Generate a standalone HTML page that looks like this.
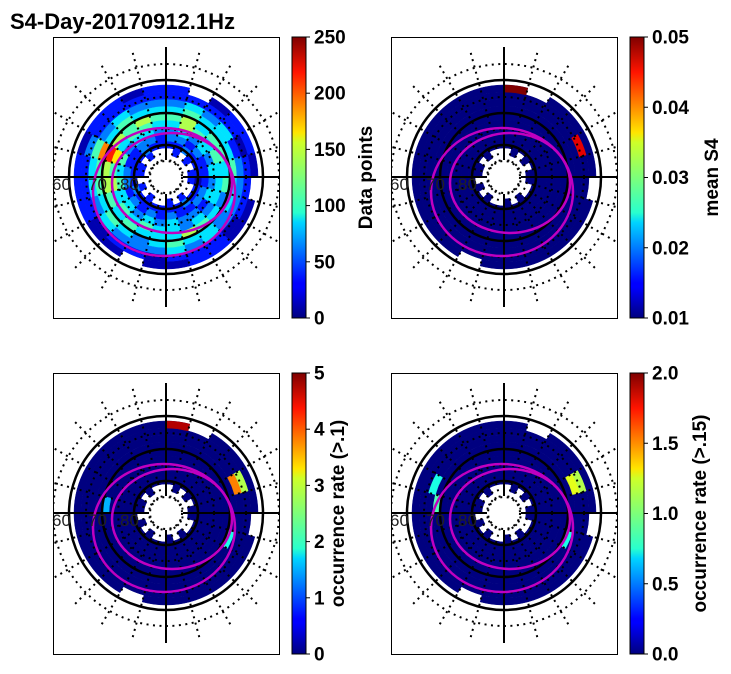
<!DOCTYPE html>
<html><head><meta charset="utf-8"><style>
html,body{margin:0;padding:0;background:#fff;}
svg{display:block;font-family:"Liberation Sans",sans-serif;}
</style></head><body>
<svg id="fig" width="731" height="674" viewBox="0 0 731 674">
<defs>
<linearGradient id="jet" x1="0" y1="1" x2="0" y2="0">
<stop offset="0" stop-color="#00007f"/><stop offset="0.11" stop-color="#0000ff"/>
<stop offset="0.125" stop-color="#0000ff"/><stop offset="0.34" stop-color="#00d4ff"/>
<stop offset="0.375" stop-color="#29ffce"/><stop offset="0.5" stop-color="#7dff7a"/>
<stop offset="0.625" stop-color="#ceff29"/><stop offset="0.66" stop-color="#ffe500"/>
<stop offset="0.875" stop-color="#ff1400"/><stop offset="1" stop-color="#7f0000"/>
</linearGradient>
</defs>
<text x="10" y="29" font-size="22" font-weight="bold">S4-Day-20170912.1Hz</text>
<g id="panels"></g>
</svg>
<script>
// Panel 1 data: levels 0-9 per ring (inner->outer), 24 sectors clockwise from north; '.' empty
const ringsP1 = [
".1.1.11..1.1..1.1.11.1..",
"112111011211111121111211",
"221211122112121212211221",
"232323231223232334342332",
"354343332323343435463443",
"453443423453334345585454",
"343334332334323434473433",
"232312222323222323342322",
"111101110111011011121111",
"1.0110.001100.0011101101"
];
// highlights for panels 2-4: [ring, sector, fraction 0..1]
const hiP2 = [[9,0,1.0],[8,4,0.9]];
const hiP3 = [[9,0,0.95],[8,4,0.55],[7,4,0.75],[6,7,0.4],[5,18,0.3]];
const hiP4 = [[8,4,0.55],[7,4,0.6],[6,7,0.4],[6,18,0.45],[7,19,0.4]];
const cbTicks1 = ["0","50","100","150","200","250"];
const cbTicks2 = ["0.01","0.02","0.03","0.04","0.05"];
const cbTicks3 = ["0","1","2","3","4","5"];
const cbTicks4 = ["0.0","0.5","1.0","1.5","2.0"];
const cbLabels = ["Data points","mean S4","occurrence rate (>.1)","occurrence rate (>.15)"];

const NS="http://www.w3.org/2000/svg";
const root=document.getElementById('panels');
function mk(tag,attrs,parent){const e=document.createElementNS(NS,tag);for(const k in attrs)e.setAttribute(k,attrs[k]);(parent||root).appendChild(e);return e;}
function jet(v){v=Math.max(0,Math.min(1,v));
 function c(x){return Math.max(0,Math.min(1,x));}
 const r=c(1.5-Math.abs(4*v-3)),g=c(1.5-Math.abs(4*v-2)),b=c(1.5-Math.abs(4*v-1));
 return `rgb(${Math.round(r*255)},${Math.round(g*255)},${Math.round(b*255)})`;}
const R0=22,DR=7,NSEC=24;
function rScale(i){return R0+i*DR;}
function aScale(j){return j*2*Math.PI/NSEC;}
function cellPath(cx,cy,i,j){
 const r1=rScale(i),r2=rScale(i+1),a1=aScale(j),a2=aScale(j+1);
 const p=(r,a)=>[cx+r*Math.sin(a),cy-r*Math.cos(a)];
 const A=p(r1,a1),B=p(r2,a1),C=p(r2,a2),D=p(r1,a2);
 return `M${A}L${B}A${r2},${r2} 0 0 1 ${C}L${D}A${r1},${r1} 0 0 0 ${A}Z`;}

const panels=[
 {x:53,y:37,cx:166,cy:177,cbx:292,ticks:cbTicks1,hi:null,lo:74},
 {x:391,y:37,cx:504,cy:177,cbx:630,ticks:cbTicks2,hi:hiP2,lo:82},
 {x:53,y:373,cx:166,cy:513,cbx:292,ticks:cbTicks3,hi:hiP3,lo:46},
 {x:391,y:373,cx:504,cy:513,cbx:630,ticks:cbTicks4,hi:hiP4,lo:70}];
const W=226,H=281;

panels.forEach((P,k)=>{
 const g=mk('g',{});
 
 
 const cp=mk('clipPath',{id:'clip'+k},g);mk('rect',{x:P.x,y:P.y,width:W,height:H},cp);
 const inner=mk('g',{'clip-path':`url(#clip${k})`},g);
 const hm=mk('g',{},inner);
 
 
 for(let i=0;i<ringsP1.length;i++)for(let j=0;j<NSEC;j++){
  const ch=ringsP1[i][j];let v;
  if(ch==='.')continue;
  if(P.hi===null){v=(+ch*25+12)/250;}
  else{v=0;}
  const c=mk('path',{d:cellPath(P.cx,P.cy,i,j),fill:jet(v),stroke:jet(v),'stroke-width':0.5},hm);
  
  
 }
 if(P.hi)P.hi.forEach(h=>{
  const c=mk('path',{d:cellPath(P.cx,P.cy,h[0],h[1]),fill:jet(h[2]),stroke:jet(h[2]),'stroke-width':0.5},hm);
  
  
 });
 [16,48,80,113].forEach(r=>{mk('circle',{cx:P.cx,cy:P.cy,r:r,fill:'none',stroke:'#000','stroke-width':2,'stroke-dasharray':'2 4.5'},inner);});
 for(let a=15;a<360;a+=15){if(a%90===0)continue;const t=a*Math.PI/180;
  mk('line',{x1:P.cx+16*Math.sin(t),y1:P.cy-16*Math.cos(t),x2:P.cx+132*Math.sin(t),y2:P.cy-132*Math.cos(t),stroke:'#000','stroke-width':2,'stroke-dasharray':'2 4.5'},inner);}
 [32,64,97].forEach(r=>{mk('circle',{cx:P.cx,cy:P.cy,r:r,fill:'none',stroke:'#000','stroke-width':2.5},inner);});
 mk('line',{x1:P.cx,y1:P.cy-130,x2:P.cx,y2:P.cy-17,stroke:'#000','stroke-width':2},inner);
 mk('line',{x1:P.cx,y1:P.cy+17,x2:P.cx,y2:P.cy+130,stroke:'#000','stroke-width':2},inner);
 mk('line',{x1:P.x,y1:P.cy,x2:P.cx-17,y2:P.cy,stroke:'#000','stroke-width':2},inner);
 mk('line',{x1:P.cx+17,y1:P.cy,x2:P.x+W,y2:P.cy,stroke:'#000','stroke-width':2},inner);
 mk('ellipse',{cx:P.cx-2,cy:P.cy+15,rx:71,ry:64,fill:'none',stroke:'#c000c0','stroke-width':2.5},inner);
 mk('ellipse',{cx:P.cx+6,cy:P.cy+6,rx:60,ry:50,fill:'none',stroke:'#c000c0','stroke-width':2.5},inner);
 [["60",-114],["70",-78],["80",-46]].forEach(l=>{const t=mk('text',{x:P.cx+l[1],y:P.cy+13,'font-size':17,fill:'#222'},g);t.textContent=l[0];
  });
 const fr=mk('rect',{x:P.x+0.5,y:P.y+0.5,width:W,height:H,fill:'none',stroke:'#000','stroke-width':1},g);
 
 const cb=mk('rect',{x:P.cbx,y:P.y,width:14,height:H,fill:'url(#jet)',stroke:'#000','stroke-width':1},g);
 
 const n=P.ticks.length;
 P.ticks.forEach((t,i)=>{const yy=P.y+H-i*H/(n-1);
  mk('line',{x1:P.cbx+14,y1:yy,x2:P.cbx+18,y2:yy,stroke:'#000','stroke-width':1},g);
  const tx=mk('text',{x:P.cbx+22,y:yy+6.5,'font-size':19,'font-weight':'bold'},g);tx.textContent=t;
  });
 const lx=P.cbx+P.lo+6;
 const lb=mk('text',{x:lx,y:P.y+H/2,'font-size':19,'font-weight':'bold','text-anchor':'middle',transform:`rotate(-90 ${lx} ${P.y+H/2})`},g);
 lb.textContent=cbLabels[k];
 
});
</script>
</body></html>
